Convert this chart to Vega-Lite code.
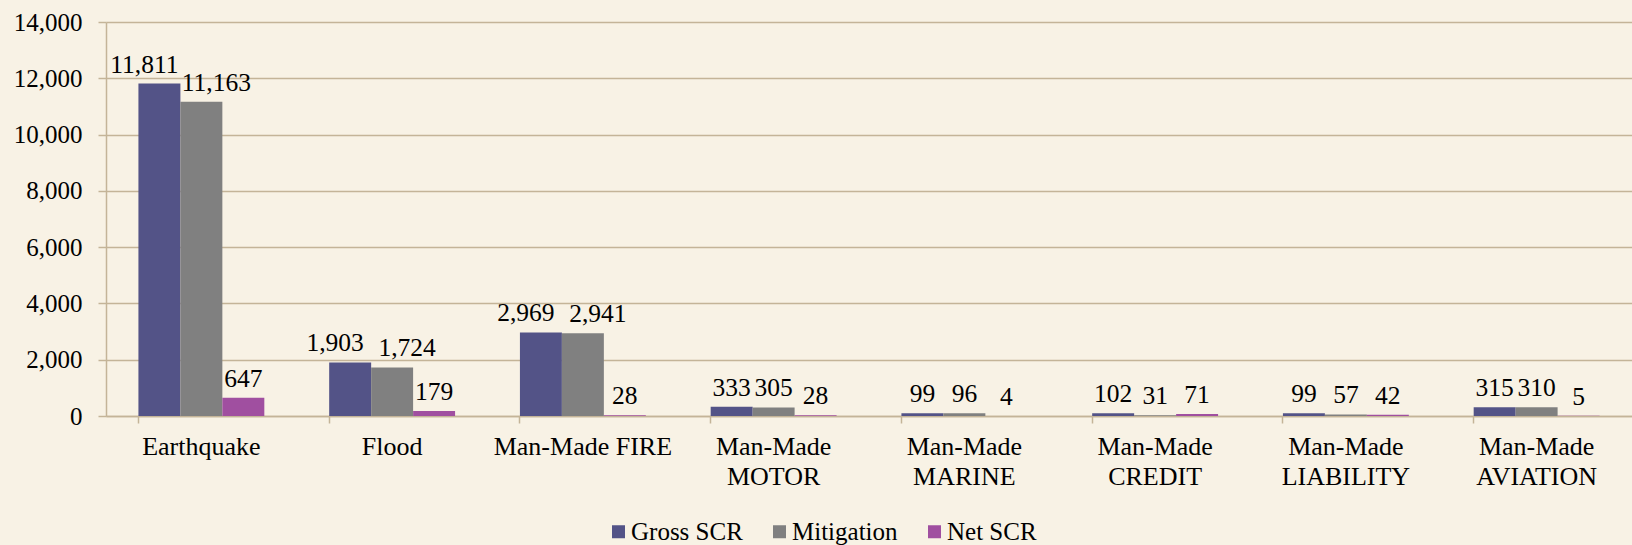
{
  "$schema": "https://vega.github.io/schema/vega-lite/v6.json",
  "autosize": {"type": "none"},
  "padding": {"left": 106, "top": 22, "right": 0, "bottom": 129},
  "width": 1526,
  "height": 394,
  "background": "#F8F2E5",
  "config": {
    "view": {"stroke": null},
    "font": "Liberation Serif",
    "axis": {"labelFont": "Liberation Serif", "labelColor": "#000000", "domainColor": "#C4B498", "tickColor": "#C4B498", "gridColor": "#C4B498", "domainWidth": 1.5, "tickWidth": 1.5, "gridWidth": 1.5, "title": null}
  },
  "data": {
    "values": [
      {"category": "Earthquake", "series": "Gross SCR", "value": 11811},
      {"category": "Earthquake", "series": "Mitigation", "value": 11163},
      {"category": "Earthquake", "series": "Net SCR", "value": 647},
      {"category": "Flood", "series": "Gross SCR", "value": 1903},
      {"category": "Flood", "series": "Mitigation", "value": 1724},
      {"category": "Flood", "series": "Net SCR", "value": 179},
      {"category": "Man-Made FIRE", "series": "Gross SCR", "value": 2969},
      {"category": "Man-Made FIRE", "series": "Mitigation", "value": 2941},
      {"category": "Man-Made FIRE", "series": "Net SCR", "value": 28},
      {"category": "Man-Made MOTOR", "series": "Gross SCR", "value": 333},
      {"category": "Man-Made MOTOR", "series": "Mitigation", "value": 305},
      {"category": "Man-Made MOTOR", "series": "Net SCR", "value": 28},
      {"category": "Man-Made MARINE", "series": "Gross SCR", "value": 99},
      {"category": "Man-Made MARINE", "series": "Mitigation", "value": 96},
      {"category": "Man-Made MARINE", "series": "Net SCR", "value": 4},
      {"category": "Man-Made CREDIT", "series": "Gross SCR", "value": 102},
      {"category": "Man-Made CREDIT", "series": "Mitigation", "value": 31},
      {"category": "Man-Made CREDIT", "series": "Net SCR", "value": 71},
      {"category": "Man-Made LIABILITY", "series": "Gross SCR", "value": 99},
      {"category": "Man-Made LIABILITY", "series": "Mitigation", "value": 57},
      {"category": "Man-Made LIABILITY", "series": "Net SCR", "value": 42},
      {"category": "Man-Made AVIATION", "series": "Gross SCR", "value": 315},
      {"category": "Man-Made AVIATION", "series": "Mitigation", "value": 310},
      {"category": "Man-Made AVIATION", "series": "Net SCR", "value": 5}
    ]
  },
  "encoding": {
    "x": {
      "field": "category", "type": "nominal", "sort": null,
      "scale": {"paddingInner": 0.34, "paddingOuter": 0.17},
      "axis": {"labelAngle": 0, "bandPosition": 0, "tickSize": 7, "labelPadding": 10, "labelBaseline": "top", "labelLineHeight": 30, "labelFontSize": 26, "grid": false,
        "labelExpr": "datum.value == 'Man-Made FIRE' || indexof(datum.value, ' ') < 0 ? datum.value : split(datum.value, ' ')"}
    },
    "xOffset": {"field": "series", "type": "nominal", "sort": ["Gross SCR", "Mitigation", "Net SCR"]},
    "y": {
      "field": "value", "type": "quantitative",
      "scale": {"domain": [0, 14000], "nice": false},
      "axis": {"values": [0, 2000, 4000, 6000, 8000, 10000, 12000, 14000], "labelExpr": "format(datum.value, ',')", "labelFontSize": 25, "tickSize": 8, "labelPadding": 16, "grid": true}
    }
  },
  "layer": [
    {
      "mark": {"type": "bar"},
      "encoding": {
        "color": {
          "field": "series", "type": "nominal",
          "scale": {"domain": ["Gross SCR", "Mitigation", "Net SCR"], "range": ["#535387", "#808080", "#A04FA0"]},
          "legend": {"orient": "none", "legendX": 500, "legendY": 497, "direction": "horizontal", "title": null, "symbolType": "square", "symbolSize": 169, "symbolStrokeWidth": 0, "labelFont": "Liberation Serif", "labelFontSize": 25, "labelColor": "#000000", "labelOffset": 0, "columnPadding": 24, "padding": 0}
        }
      }
    },
    {
      "transform": [{"filter": "datum.value >= 1000 && datum.series == 'Gross SCR'"}],
      "mark": {"type": "text", "baseline": "alphabetic", "dx": -15, "dy": -11, "fontSize": 25.5, "font": "Liberation Serif", "color": "#000000"},
      "encoding": {"text": {"field": "value", "type": "quantitative", "format": ","}}
    },
    {
      "transform": [{"filter": "datum.value >= 1000 && datum.series == 'Mitigation'"}],
      "mark": {"type": "text", "baseline": "alphabetic", "dx": 15, "dy": -11, "fontSize": 25.5, "font": "Liberation Serif", "color": "#000000"},
      "encoding": {"text": {"field": "value", "type": "quantitative", "format": ","}}
    },
    {
      "transform": [{"filter": "datum.value < 1000"}],
      "mark": {"type": "text", "baseline": "alphabetic", "dy": -11, "fontSize": 25.5, "font": "Liberation Serif", "color": "#000000"},
      "encoding": {"text": {"field": "value", "type": "quantitative", "format": ","}}
    }
  ]
}
